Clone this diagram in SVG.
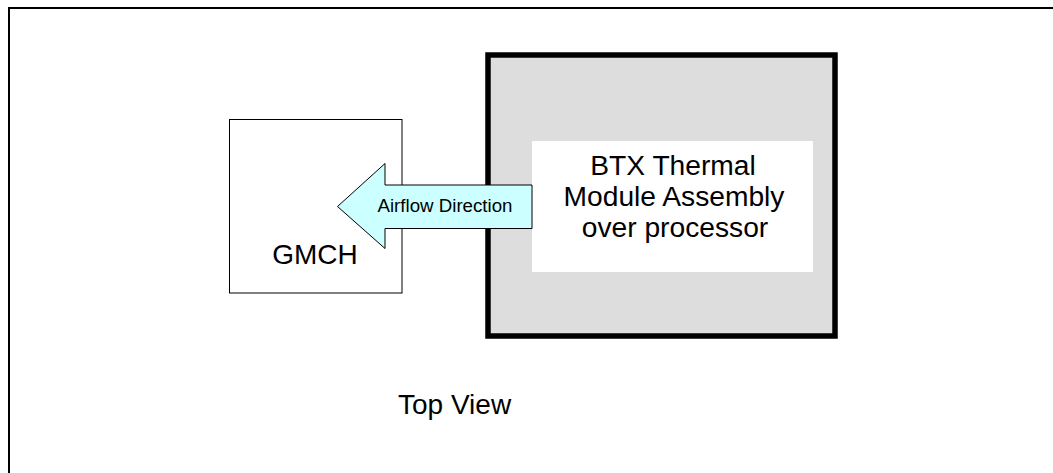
<svg xmlns="http://www.w3.org/2000/svg" width="1053" height="473" viewBox="0 0 1053 473">
<style>
.t{font-family:"Liberation Sans",Arial,sans-serif;fill:#000;text-anchor:middle}
</style>
<rect x="0" y="0" width="1053" height="473" fill="#fff"/>
<rect id="frame" x="9" y="8" width="1100" height="520" fill="none" stroke="#000" stroke-width="2"/>
<g id="gmch">
<rect x="229.5" y="119.5" width="172.5" height="173.5" fill="#fff" stroke="#000" stroke-width="1"/>
<text class="t" x="315" y="264" font-size="28">GMCH</text>
</g>
<g id="btx">
<rect x="488" y="55" width="347" height="281" fill="#ddd" stroke="#000" stroke-width="5.5"/>
<rect x="532" y="141" width="281" height="131" fill="#fff"/>
<text class="t" x="673" y="175" font-size="28.2">BTX Thermal</text>
<text class="t" x="674" y="206" font-size="28.2">Module Assembly</text>
<text class="t" x="675" y="237" font-size="28.2">over processor</text>
</g>
<g id="connectors">
<g id="airflow">
<polygon points="337.5,206.5 385,163.5 385,185 532,185 532,228.5 385,228.5 385,248.5" fill="#ccffff" stroke="#000" stroke-width="1"/>
<text class="t" x="445" y="212" font-size="18.7">Airflow Direction</text>
</g>
</g>
<text class="t" x="398" y="414" font-size="28" style="text-anchor:start">Top View</text>
</svg>
